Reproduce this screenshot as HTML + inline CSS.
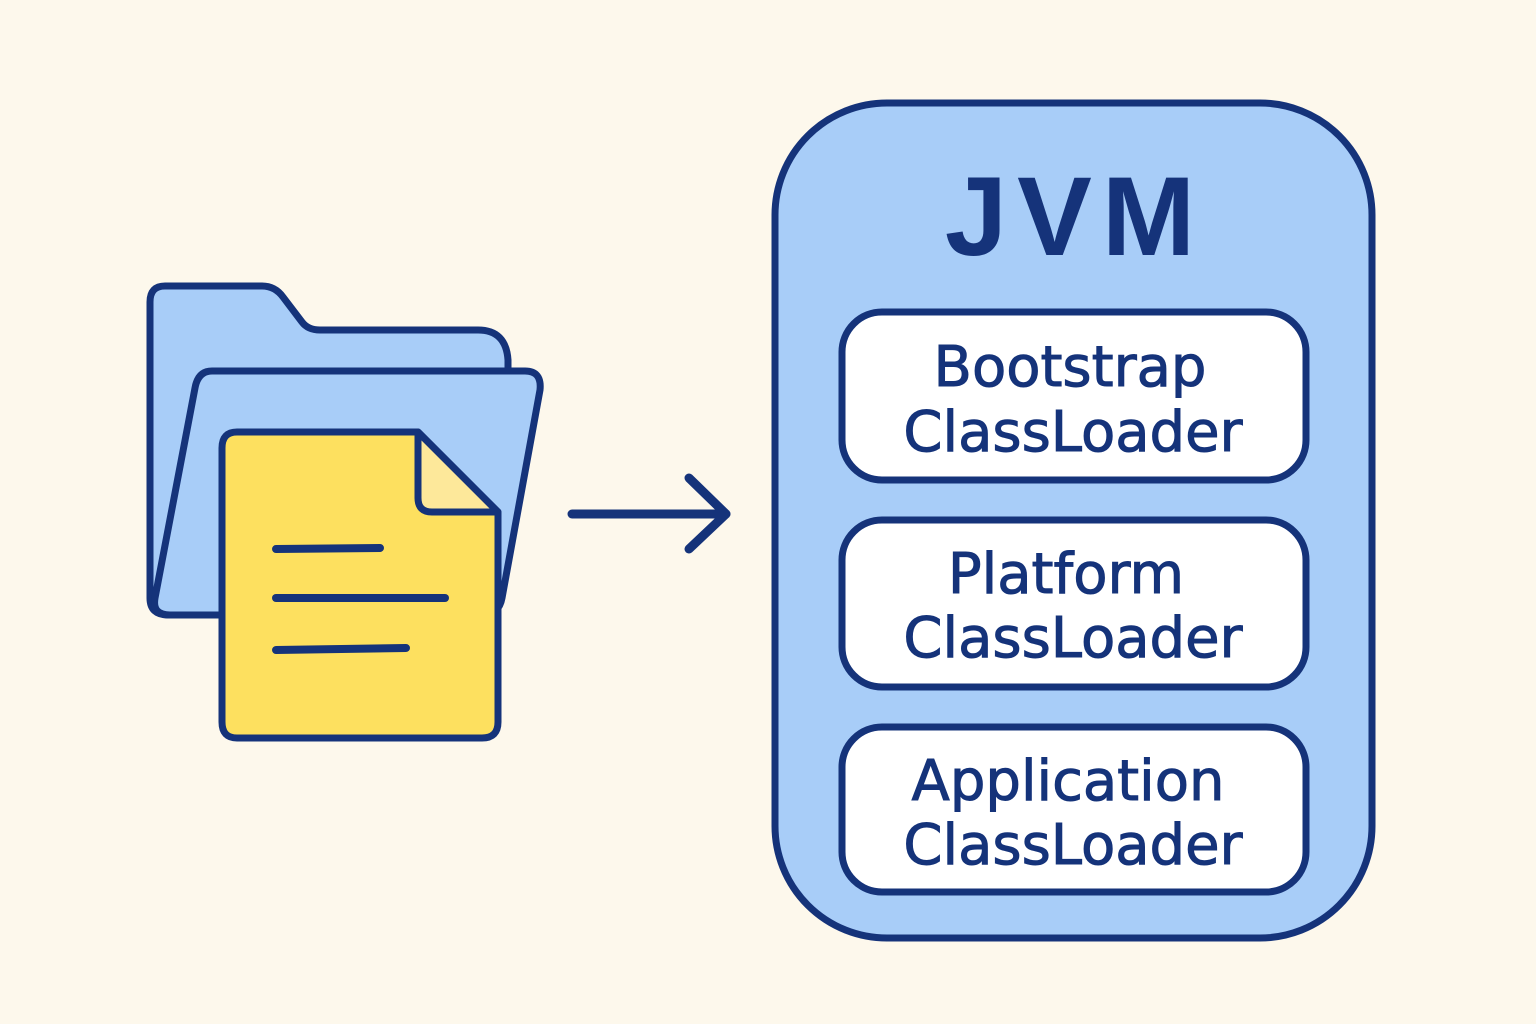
<!DOCTYPE html>
<html><head><meta charset="utf-8"><style>
html,body{margin:0;padding:0;background:#fdf8ec;}
svg{display:block}
text{font-family:"DejaVu Sans","Liberation Sans",sans-serif;fill:#15337a;}
</style></head><body>
<svg width="1536" height="1024" viewBox="0 0 1536 1024" xmlns="http://www.w3.org/2000/svg">
<rect width="1536" height="1024" fill="#fdf8ec"/>
<g stroke="#15337a" stroke-width="7" stroke-linejoin="round" stroke-linecap="round">
<path d="M165 286 H262 Q275 286 283 297 L302 322 Q308 330 320 330 H478 Q506 330 508 360 L508 380 L500 600 Q498 615 482 615 H168 Q150 615 150 598 V302 Q150 286 165 286 Z" fill="#a8cdf8"/>
<path d="M212 371 H525 Q542 371 540 390 L502 598 Q499 615 482 615 H170 Q152 615 155 598 L195 388 Q198 371 212 371 Z" fill="#a8cdf8"/>
<path d="M237 432 H418 L498 512 V722 Q498 738 482 738 H237 Q222 738 222 722 V448 Q222 432 237 432 Z" fill="#fde05f"/>
<path d="M418 432 V498 Q418 512 432 512 H498 Z" fill="#fde89a"/>
<line x1="276" y1="549" x2="380" y2="548" stroke-width="8"/>
<line x1="276" y1="598" x2="445" y2="598" stroke-width="8"/>
<line x1="276" y1="650" x2="406" y2="648" stroke-width="8"/>
<line x1="572" y1="514" x2="726" y2="514" stroke-width="9"/>
<polyline points="689,478 726,514 689,549" fill="none" stroke-width="9"/>
<rect x="775" y="103" width="597" height="835" rx="112" fill="#a8cdf8"/>
<rect x="842" y="312" width="464" height="168" rx="40" fill="#fff"/>
<rect x="842" y="520" width="464" height="167" rx="40" fill="#fff"/>
<rect x="842" y="727" width="464" height="165" rx="40" fill="#fff"/>
</g>
<text x="1075" y="255" font-size="112" font-weight="bold" text-anchor="middle" letter-spacing="10" style="font-family:'Liberation Sans',sans-serif">JVM</text>
<g font-size="56" text-anchor="middle" stroke="#15337a" stroke-width="1">
<text x="1070" y="386">Bootstrap</text>
<text x="1073" y="451">ClassLoader</text>
<text x="1066" y="593">Platform</text>
<text x="1073" y="657">ClassLoader</text>
<text x="1068" y="800">Application</text>
<text x="1073" y="864">ClassLoader</text>
</g>
</svg>
</body></html>
